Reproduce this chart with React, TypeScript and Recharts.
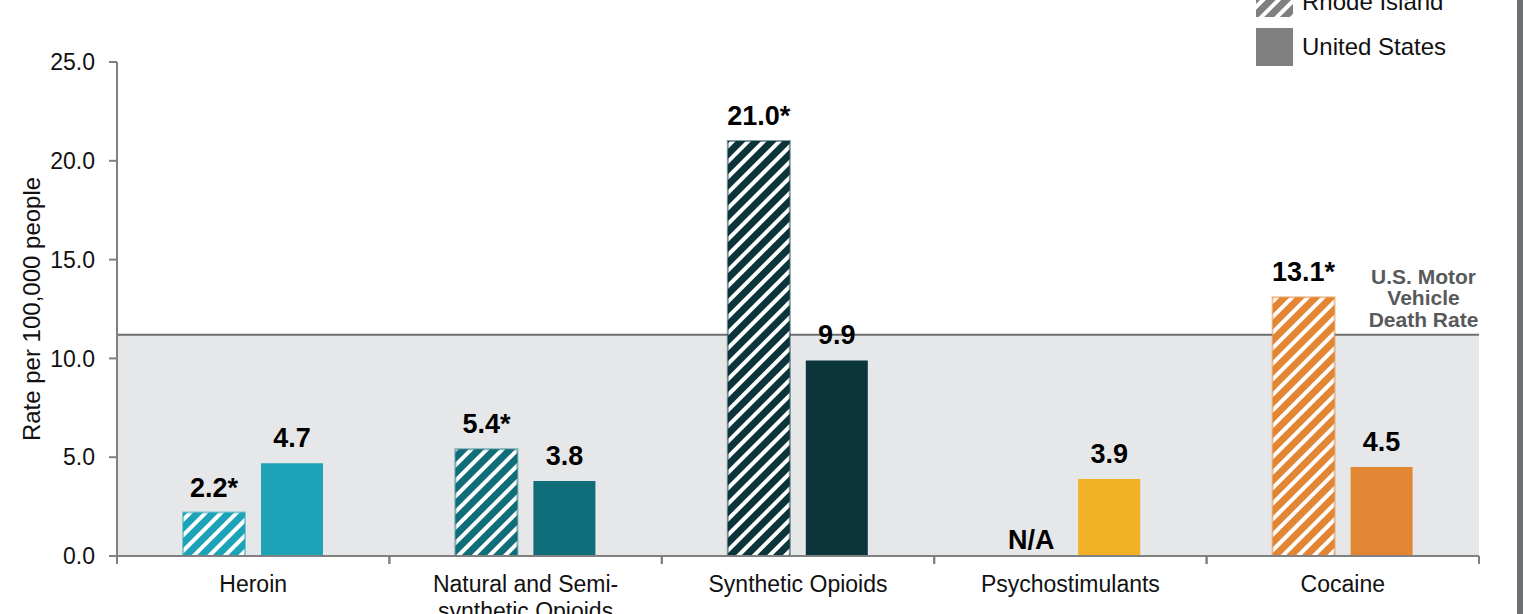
import React from "react";
import { BarChart, Bar, XAxis, YAxis, Cell, LabelList, ReferenceArea, ReferenceLine } from "recharts";

const categories = ["Heroin", "Natural and Semi-synthetic Opioids", "Synthetic Opioids", "Psychostimulants", "Cocaine"];
const rhodeIsland = [2.2, 5.4, 21.0, 0, 13.1];
const rhodeIslandAvailable = [true, true, true, false, true];
const rhodeIslandSignificant = [true, true, true, false, true];
const unitedStates = [4.7, 3.8, 9.9, 3.9, 4.5];
const categoryColors = ["#1ca3b8", "#0f6e7a", "#0b353b", "#f2b024", "#e38633"];
const yTicks = [0, 5, 10, 15, 20, 25];
const motorVehicleRate = 11.2;
const seriesNames = ["Rhode Island", "United States"];
const motorLabelLines = ["U.S. Motor", "Vehicle", "Death Rate"];
const yAxisTitle = "Rate per 100,000 people";

const data = categories.map((c, i) => ({
  category: c,
  ri: rhodeIsland[i],
  us: unitedStates[i],
  riAvailable: rhodeIslandAvailable[i],
  riSignificant: rhodeIslandSignificant[i],
}));

const FONT = "'Liberation Sans', Arial, Helvetica, sans-serif";
const AXIS_GRAY = "#808080";

const XTick = (props: any) => {
  const { x, y, payload } = props;
  const half = payload && payload.offset ? payload.offset : 0;
  const label: string = payload.value;
  const k = label.indexOf("Semi-");
  const lines = k >= 0 ? [label.slice(0, k + 5), label.slice(k + 5)] : [label];
  return (
    <g>
      <line x1={x - half} x2={x - half} y1={y} y2={y + 8} stroke={AXIS_GRAY} strokeWidth={2} />
      <line x1={x + half} x2={x + half} y1={y} y2={y + 8} stroke={AXIS_GRAY} strokeWidth={2} />
      <text x={x} y={y + 36} textAnchor="middle" fontSize={23} fill="#111" fontFamily={FONT}>
        {lines.map((l, i) => (
          <tspan key={i} x={x} dy={i === 0 ? 0 : 27}>{l}</tspan>
        ))}
      </text>
    </g>
  );
};

const RiLabel = (props: any) => {
  const { x, y, width, height, index, value } = props;
  const avail = rhodeIslandAvailable[index];
  const text = avail ? Number(value).toFixed(1) + (rhodeIslandSignificant[index] ? "*" : "") : "N/A";
  const top = Math.min(Number(y), Number(y) + Number(height || 0));
  return (
    <text x={Number(x) + Number(width) / 2} y={top - (avail ? 16 : 6)} textAnchor="middle" fontSize={27} fontWeight="bold" fill="#000" fontFamily={FONT}>
      {text}
    </text>
  );
};

const UsLabel = (props: any) => {
  const { x, y, width, value } = props;
  return (
    <text x={Number(x) + Number(width) / 2} y={Number(y) - 16} textAnchor="middle" fontSize={27} fontWeight="bold" fill="#000" fontFamily={FONT}>
      {Number(value).toFixed(1)}
    </text>
  );
};

const MotorLabel = (props: any) => {
  const vb = props.viewBox || {};
  const cx = vb.x + vb.width - 55.5;
  const top = vb.y - 51;
  return (
    <text x={cx} y={top} textAnchor="middle" fontSize={21} fontWeight="bold" fill="#58595b" fontFamily={FONT}>
      {motorLabelLines.map((l, i) => (
        <tspan key={i} x={cx} dy={i === 0 ? 0 : 21.5}>{l}</tspan>
      ))}
    </text>
  );
};

const YTitle = (props: any) => {
  const vb = props.viewBox || {};
  const cx = vb.x + 31;
  const cy = vb.y + vb.height / 2;
  return (
    <text x={cx} y={cy} transform={`rotate(-90 ${cx} ${cy})`} textAnchor="middle" dominantBaseline="central" fontSize={24} fill="#111" fontFamily={FONT}>
      {yAxisTitle}
    </text>
  );
};

export default function App() {
  return (
    <div style={{ position: "absolute", left: 0, top: 0, width: 1523, height: 614, overflow: "hidden", background: "#fff" }}>
      <svg width={0} height={0} style={{ position: "absolute" }}>
        <defs>
          {categoryColors.map((c, i) => (
            <pattern key={i} id={`hatch-${i}`} patternUnits="userSpaceOnUse" width={11} height={11} patternTransform="rotate(45)">
              <rect width={11} height={11} fill={c} />
              <rect x={0} width={4} height={11} fill="#fff" />
            </pattern>
          ))}
          <pattern id="hatch-legend" patternUnits="userSpaceOnUse" width={11} height={11} patternTransform="rotate(45)">
            <rect width={11} height={11} fill="#808080" />
            <rect x={0} width={4} height={11} fill="#fff" />
          </pattern>
        </defs>
      </svg>
      <BarChart
        width={1523}
        height={614}
        data={data}
        margin={{ top: 62, right: 44, bottom: 0, left: 0 }}
        barSize={62}
        barGap={16}
        style={{ fontFamily: FONT }}
      >
        <ReferenceArea y1={0} y2={motorVehicleRate} fill="#e6e7e8" fillOpacity={1} stroke="none" zIndex={-50} />
        <ReferenceLine y={motorVehicleRate} stroke="#6d6e71" strokeWidth={2} zIndex={-40} label={<MotorLabel />} />
        <XAxis
          dataKey="category"
          height={58}
          tickLine={false}
          tickSize={0}
          tickMargin={0}
          axisLine={{ stroke: AXIS_GRAY, strokeWidth: 2 }}
          tick={<XTick />}
          interval={0}
        />
        <YAxis
          width={117}
          domain={[0, 25]}
          ticks={yTicks}
          tickFormatter={(v: number) => v.toFixed(1)}
          tick={{ fontSize: 23, fill: "#111", fontFamily: FONT }}
          tickSize={8}
          tickMargin={14}
          tickLine={{ stroke: AXIS_GRAY, strokeWidth: 2 }}
          axisLine={{ stroke: AXIS_GRAY, strokeWidth: 2 }}
          label={<YTitle />}
        />
        <Bar dataKey="ri" name={seriesNames[0]} isAnimationActive={false} minPointSize={1}>
          {data.map((d, i) => (
            <Cell
              key={i}
              fill={d.riAvailable ? `url(#hatch-${i})` : "none"}
              stroke={d.riAvailable ? categoryColors[i] : "none"}
              strokeOpacity={0.5}
              strokeWidth={2}
            />
          ))}
          <LabelList dataKey="ri" content={<RiLabel />} />
        </Bar>
        <Bar dataKey="us" name={seriesNames[1]} isAnimationActive={false}>
          {data.map((_, i) => (
            <Cell key={i} fill={categoryColors[i]} />
          ))}
          <LabelList dataKey="us" content={<UsLabel />} />
        </Bar>
      </BarChart>
      <svg width={1523} height={614} style={{ position: "absolute", left: 0, top: 0, pointerEvents: "none" }}>
        <rect x={1256} y={-20} width={37} height={37} fill="url(#hatch-legend)" />
        <text x={1302} y={10} fontSize={24} fill="#111" fontFamily={FONT}>{seriesNames[0]}</text>
        <rect x={1256} y={28} width={37} height={38} fill="#808080" />
        <text x={1302} y={55} fontSize={24} fill="#111" fontFamily={FONT}>{seriesNames[1]}</text>
        <rect x={1517} y={0} width={6} height={614} fill="#6d6e71" />
      </svg>
    </div>
  );
}
